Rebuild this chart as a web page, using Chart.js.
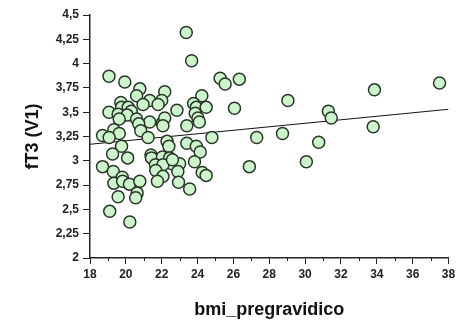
<!DOCTYPE html>
<html>
<head>
<meta charset="utf-8">
<script src="https://cdn.jsdelivr.net/npm/chart.js@4/dist/chart.umd.min.js"></script>
<style>
html,body{margin:0;padding:0;background:#fff;}
#wrap{width:456px;height:324px;}
</style>
</head>
<body>
<div id="wrap"><canvas id="c" width="456" height="324"></canvas></div>
<script>
const bmi = [19.06,19.94,20.78,20.6,22.17,22.0,21.33,20.96,21.8,19.72,19.76,20.13,20.3,19.06,19.57,20.07,20.6,19.63,21.33,22.04,22.17,22.85,20.72,20.83,22.07,18.7,19.33,19.63,19.07,21.24,22.3,22.4,23.4,19.76,19.26,20.1,21.4,21.43,22.04,22.44,22.57,23.0,21.65,22.07,18.7,19.3,21.67,22.9,19.8,22.07,19.33,19.82,20.2,20.78,21.76,22.94,20.63,20.55,19.57,19.1,20.22,23.37,23.67,25.26,25.54,26.33,24.24,23.78,23.93,24.48,26.06,23.87,24.02,24.1,23.4,24.8,27.3,23.93,24.15,23.83,24.26,24.48,23.56,26.89,29.04,31.3,31.46,33.87,37.5,28.74,30.76,30.07,33.8,22.6];
const ft3 = [3.87,3.81,3.74,3.67,3.71,3.62,3.62,3.58,3.58,3.60,3.55,3.55,3.51,3.50,3.48,3.47,3.43,3.43,3.40,3.39,3.44,3.52,3.38,3.31,3.36,3.26,3.32,3.28,3.24,3.24,3.20,3.15,3.18,3.15,3.07,3.03,3.06,3.03,3.04,3.03,2.97,2.97,2.96,2.96,2.94,2.89,2.90,2.89,2.83,2.84,2.77,2.79,2.76,2.79,2.79,2.78,2.67,2.62,2.63,2.48,2.37,4.32,4.03,3.85,3.79,3.84,3.67,3.59,3.55,3.55,3.54,3.49,3.44,3.40,3.36,3.24,3.24,3.15,3.09,2.99,2.88,2.85,2.71,2.94,3.62,3.51,3.44,3.73,3.80,3.28,3.19,2.99,3.35,3.01];
const trendX = [18, 38];
const trendY = [3.17, 3.53];
const xTicks = [18,20,22,24,26,28,30,32,34,36,38];
const yTicks = [2,2.25,2.5,2.75,3,3.25,3.5,3.75,4,4.25,4.5];

const pts = bmi.map((x,i)=>({x:x, y:ft3[i]}));
const trend = trendX.map((x,i)=>({x:x, y:trendY[i]}));
const fmt = v => String(v).replace('.', ',');

const minorTicks = {
  id:'minorTicks',
  afterDraw(chart){
    const xs = chart.scales.x, ctx = chart.ctx;
    ctx.save();
    ctx.strokeStyle = '#222';
    ctx.lineWidth = 1;
    for (let v = xs.min + 1; v < xs.max; v += 2) {
      const px = Math.round(xs.getPixelForValue(v)) + 0.5;
      ctx.beginPath();
      ctx.moveTo(px, xs.top);
      ctx.lineTo(px, xs.top + 3);
      ctx.stroke();
    }
    ctx.restore();
  }
};

new Chart(document.getElementById('c'), {
  type: 'scatter',
  data: {
    datasets: [
      {
        type: 'line',
        data: trend,
        borderColor: '#111',
        borderWidth: 1,
        pointRadius: 0,
        fill: false,
        order: 2
      },
      {
        data: pts,
        backgroundColor: '#ccf5cc',
        borderColor: '#2a352a',
        borderWidth: 1.5,
        pointRadius: 6,
        pointHoverRadius: 6,
        order: 1
      }
    ]
  },
  options: {
    responsive: false,
    animation: false,
    devicePixelRatio: 1,
    layout: { padding: { top: 15, right: 0, left: 0, bottom: 0 } },
    plugins: { legend: { display: false }, tooltip: { enabled: false } },
    scales: {
      x: {
        type: 'linear',
        min: 18, max: 38,
        afterBuildTicks: s => { s.ticks = xTicks.map(v => ({value: v})); },
        afterFit: s => { s.height = 66; s.paddingRight = 6; },
        border: { color: '#222', width: 1.5 },
        grid: { drawOnChartArea: false, drawTicks: true, tickLength: 6, color: '#222', tickWidth: 1 },
        ticks: { color: '#222', font: { family: 'Liberation Sans, Arial', size: 12, weight: 'bold' }, padding: 3, maxRotation: 0, callback: v => fmt(v) },
        title: { display: true, text: 'bmi_pregravidico', color: '#111', font: { family: 'Liberation Sans, Arial', size: 18, weight: 'bold' }, padding: { top: 0, bottom: 3 } }
      },
      y: {
        type: 'linear',
        min: 2, max: 4.5,
        afterBuildTicks: s => { s.ticks = yTicks.map(v => ({value: v})); },
        afterFit: s => { s.width = 90; },
        border: { color: '#222', width: 1.5 },
        grid: { drawOnChartArea: false, drawTicks: true, tickLength: 7, color: '#222', tickWidth: 1 },
        ticks: { color: '#222', font: { family: 'Liberation Sans, Arial', size: 12, weight: 'bold' }, padding: 4, callback: v => fmt(v) },
        title: { display: true, text: 'fT3 (V1)', color: '#111', font: { family: 'Liberation Sans, Arial', size: 18, weight: 'bold' }, padding: { top: 22, bottom: 0 } }
      }
    }
  },
  plugins: [minorTicks]
});
</script>
</body>
</html>
